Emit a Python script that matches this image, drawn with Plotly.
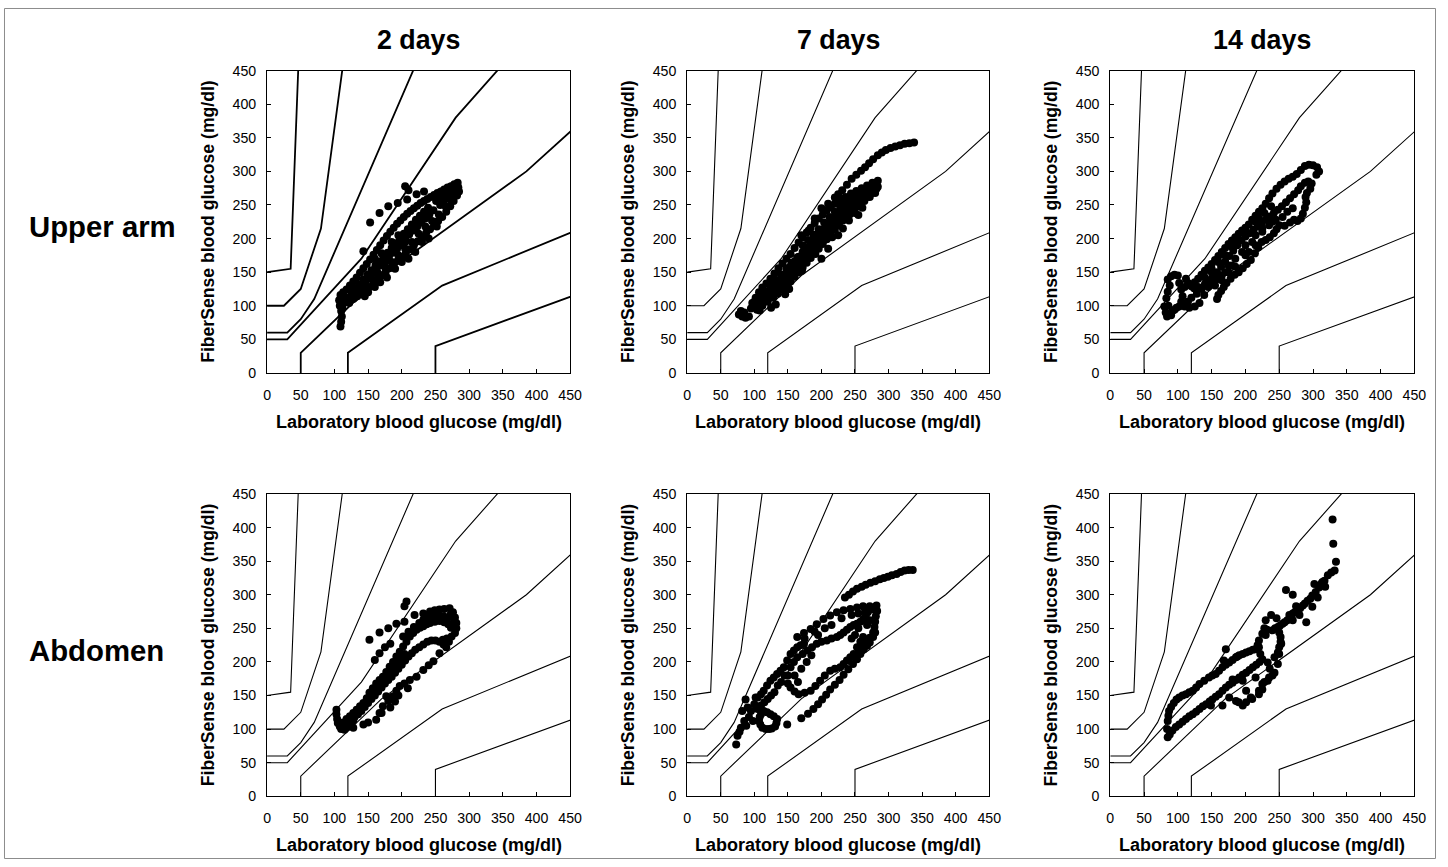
import plotly.graph_objects as go

# ---------------- Data ----------------
col_titles = ["2 days", "7 days", "14 days"]
row_titles = ["Upper arm", "Abdomen"]
x_title = "Laboratory blood glucose (mg/dl)"
y_title = "FiberSense blood glucose (mg/dl)"
tick_vals = [0, 50, 100, 150, 200, 250, 300, 350, 400, 450]

# Parkes (consensus) error grid zone boundaries
zone_A_upper = [(0, 50), (30, 50), (140, 170), (280, 380), (430, 550)]
zone_A_lower = [(50, 0), (50, 30), (170, 145), (385, 300), (550, 450)]
zone_B_upper = [(0, 60), (30, 60), (50, 80), (70, 110), (260, 550)]
zone_B_lower = [(120, 0), (120, 30), (260, 130), (550, 250)]
zone_C_upper = [(0, 100), (25, 100), (50, 125), (80, 215), (125, 550)]
zone_C_lower = [(250, 0), (250, 40), (550, 150)]
zone_D_upper = [(0, 150), (35, 155), (50, 550)]

upper_arm_2d = [
    (109,69),(110,76),(111,84),(110,92),(108,100),(107,108),(109,116),(113,120),(116,112),(119,106),(114,104),(112,96),
    (118,124),(123,130),(128,136),(133,142),(138,149),(143,156),(148,162),(153,169),(158,176),(163,183),(168,190),(173,197),
    (178,204),(183,210),(188,216),(193,222),(198,227),(203,232),(208,237),(213,241),(218,245),(223,249),(228,253),(233,256),
    (238,259),(243,262),(248,265),(253,268),(258,270),(263,273),(268,276),(273,278),(278,281),(283,283),(281,276),
    (125,120),(131,126),(137,132),(143,139),(149,146),(155,153),(161,160),(167,166),(173,172),(179,179),(185,186),(191,193),
    (197,200),(203,207),(209,214),(215,221),(221,228),(227,234),(233,240),(239,246),(251,256),(257,260),(263,264),
    (269,267),(275,270),(280,272),
    (122,104),(128,110),(134,114),(140,118),(146,122),(152,128),(158,134),(164,140),(170,145),(176,150),(182,156),(188,161),
    (194,167),(200,172),(206,178),(212,184),(218,190),(224,196),(230,202),(236,208),(242,214),(248,220),(254,226),(260,232),
    (266,240),(272,248),(277,256),(282,264),(285,270),
    (135,125),(145,130),(155,140),(165,148),(175,158),(185,165),(195,175),(205,185),(215,195),(225,207),(235,218),
    (245,226),(255,236),(265,248),(272,258),(278,266),
    (130,112),(150,120),(160,128),(168,135),(178,142),(190,155),(200,165),(210,170),(220,180),(230,195),(240,200),(252,218),
    (120,112),(127,118),(133,125),(139,130),(146,136),(151,143),(157,149),(163,155),(169,161),(175,167),(181,173),(187,179),
    (193,185),(199,193),(205,200),(211,206),(217,212),(223,218),(229,224),(235,230),(241,236),(247,242),(257,250),(262,256),
    (268,260),(274,264),(279,268),(284,276),
    (143,181),(153,224),(167,238),(180,248),(194,253),(208,258),(205,278),(210,272),(222,266),(233,270),(145,114),(138,120),
    (178,168),(205,195),(172,160),(150,140),(198,190),(160,170),(170,178),(185,195),(195,205),
]

upper_arm_7d = [
    (338,343),(331,342),(324,341),(317,339),(310,337),(303,335),(296,332),(290,328),(284,324),(277,318),(271,312),(265,306),
    (259,301),(252,295),(245,289),(238,280),(231,272),(225,266),(220,261),
    (77,87),(82,84),(87,82),(92,84),(85,90),(80,92),
    (97,104),(102,112),(107,120),(112,127),(118,133),(124,140),(130,148),(136,156),(142,163),(148,170),(154,177),(160,186),
    (166,194),(172,202),(178,209),(184,216),(190,223),(196,230),(202,236),(208,242),(214,247),(220,252),(228,258),(236,262),
    (244,267),(252,271),(260,275),(268,279),(276,283),(284,286),
    (95,96),(100,100),(106,106),(112,112),(118,118),(124,124),(130,131),(136,138),(142,145),(148,152),(154,159),(160,166),
    (166,173),(172,180),(178,187),(184,194),(190,201),(196,208),(202,214),(208,220),(214,226),(220,232),(226,238),(232,244),
    (238,249),(244,254),(250,259),(256,264),(262,268),(268,272),(274,276),(280,279),
    (104,94),(112,100),(120,106),(128,112),(135,118),(142,124),(148,130),(154,136),(160,143),(166,150),(172,157),(178,164),
    (184,171),(190,178),(196,185),(202,192),(208,199),(214,206),(220,213),(226,220),(232,227),(238,233),(244,239),(250,245),
    (256,251),(262,257),(268,262),(274,267),(280,272),(284,277),
    (100,106),(108,114),(116,122),(124,130),(132,138),(140,146),(148,156),(156,164),(164,172),(172,190),(180,198),(188,206),
    (196,214),(204,224),(212,232),(220,240),(228,248),(236,255),(244,260),(252,265),(260,270),(268,275),(276,279),
    (108,100),(116,108),(124,116),(132,122),(140,130),(148,138),(156,146),(164,154),(172,164),(180,172),(188,182),(196,190),
    (204,198),(212,210),(220,218),(228,226),(236,236),(244,244),(252,250),(260,258),(268,266),(276,270),(282,274),
    (103,108),(110,110),(114,118),(120,120),(126,127),(128,122),(134,134),(138,128),(144,142),(146,136),(150,150),(152,144),
    (158,158),(160,152),(162,162),(168,168),(170,160),(174,176),(176,168),(182,184),(184,178),(186,190),(192,196),(194,188),
    (198,204),(200,196),(206,210),(208,204),(210,216),(216,222),(218,214),(222,228),(224,222),(230,234),(232,238),(234,230),
    (240,244),(242,236),(246,250),(248,242),(254,256),(256,248),(258,262),(262,264),(264,256),(270,270),(272,262),(278,276),
    (280,268),
    (117,107),(132,102),(146,117),(152,125),(108,93),(125,97),(160,150),(171,152),(191,177),(200,170),(210,185),(216,202),
    (241,227),(250,238),(225,205),(232,215),(261,246),(255,235),(181,212),(170,205),(200,245),(210,252),(190,230),
]

upper_arm_14d = [
    (85,139),(90,144),(95,146),(100,145),(102,134),(105,124),(107,114),(105,106),(102,99),(95,94),(90,86),(84,84),(82,90),
    (80,99),(83,111),(85,121),(88,130),(86,100),(92,92),(98,97),
    (110,99),(117,97),(125,99),(132,104),(115,106),(120,112),(110,128),(115,134),(120,129),(112,140),(124,126),(128,118),
    (130,140),(135,146),(140,152),(145,157),(150,162),(155,168),(160,174),(165,180),(170,186),(175,192),(180,197),(185,202),
    (190,207),(195,212),(200,216),(205,221),(210,228),(215,234),(220,240),(225,245),(230,252),(235,260),(240,267),(246,274),
    (252,280),(258,285),(264,289),(270,292),(276,296),(282,302),(288,308),(294,310),(300,309),(306,306),(309,300),(305,295),
    (135,125),(140,132),(146,138),(152,144),(158,150),(164,158),(170,166),(176,174),(182,182),(188,190),(194,197),(200,203),
    (206,208),(212,213),(218,218),(224,223),(230,228),(236,233),(242,238),(248,243),(254,248),(260,254),(266,260),(272,266),
    (278,272),(282,278),(288,283),(293,285),(298,282),(296,274),(291,268),(289,262),(290,254),(288,246),(285,237),(282,230),
    (277,226),
    (158,110),(160,116),(164,122),(168,128),(172,134),(178,140),(184,146),(190,150),(196,156),(202,162),(208,168),(214,178),
    (219,187),(224,195),(230,198),(236,202),(242,208),(246,214),(250,220),(258,219),(266,224),(272,228),
    (140,142),(150,155),(160,165),(170,175),(180,188),(190,198),(200,208),(215,225),(155,130),(165,138),(175,150),(185,158),
    (200,175),(215,190),(130,128),(125,135),
    (215,205),(225,215),(235,220),(245,228),(220,230),(228,238),(238,248),
    (139,116),(152,136),(145,128),(150,150),(160,140),(170,150),(175,160),(185,170),(195,180),(200,190),(210,195),(225,210),
    (240,225),(255,232),(262,240),(270,245),(180,160),(165,145),(205,180),
]

abdomen_2d = [
    (207,290),(204,283),
    (152,233),(167,244),(180,250),(192,257),(204,260),(219,270),(232,272),(160,203),(167,213),(175,222),(183,227),
    (242,275),(249,277),(256,278),(263,279),(271,280),(276,274),(279,266),(281,258),(281,250),(279,243),(274,238),(267,235),
    (261,233),(272,270),(278,262),(275,252),
    (202,238),(210,245),(218,252),(226,258),(232,263),(240,266),(248,268),(256,268),(262,268),(268,265),
    (256,213),(247,201),(240,195),(232,188),(222,178),(212,173),(204,168),(197,164),(192,157),(187,149),(180,142),(172,134),
    (167,124),(162,114),(150,110),(143,107),(128,102),
    (190,141),(209,161),(170,124),(177,149),(183,132),(195,150),
    (103,129),(103,122),(104,115),(105,109),(108,104),(110,100),(115,99),(118,102),(123,108),(128,113),(123,119),(128,124),
    (133,129),(138,134),(143,139),(148,146),(152,154),(157,161),(162,168),(167,173),(172,178),(177,185),(182,193),(187,200),
    (192,208),(197,215),(202,223),(207,230),(212,238),(217,243),(222,248),(227,251),(232,253),(237,256),(242,258),(249,260),
    (256,261),(263,259),(269,256),(273,251),
    (113,110),(118,115),(130,118),(135,122),(140,127),(145,133),(150,139),(155,145),(160,150),(165,156),(170,162),(175,168),
    (180,173),(185,178),(190,184),(195,190),(200,196),(205,202),(210,208),(215,213),(220,218),(226,222),(232,226),(238,230),
    (244,232),(250,232),(256,230),(262,226),(266,222),(270,230),
    (120,112),(126,116),(132,124),(138,128),(144,136),(150,144),(156,152),(160,160),(166,166),(172,172),(176,176),(182,183),
    (188,190),(192,198),(198,205),(204,212),
]

abdomen_7d = [
    (336,337),(330,337),(324,336),(318,334),(312,331),(305,329),(299,327),(293,325),(287,323),(280,320),(273,318),(266,315),
    (260,312),(253,309),(247,305),(241,300),(235,296),
    (149,107),(170,116),(180,123),(188,130),(195,137),(201,144),(207,151),(213,159),(220,166),(227,173),(233,181),(240,189),
    (247,197),(253,204),(258,212),(263,219),(268,224),(272,229),(277,237),(280,244),
    (164,237),(174,243),(184,249),(193,256),(203,264),(213,269),(223,274),(233,277),(243,279),(253,281),(262,283),(272,283),
    (282,284),(283,276),(281,268),(280,260),(279,252),(277,244),(272,236),(267,228),(262,222),(257,217),
    (154,192),(159,200),(164,207),(172,212),(179,217),(186,222),(193,227),(200,230),(208,232),(215,235),(223,237),(228,240),
    (233,244),(238,248),(243,252),(248,255),(253,257),(258,260),(262,263),(266,268),(269,274),
    (150,168),(154,162),(160,156),(166,152),(175,154),(184,157),(191,164),(198,172),(205,180),(213,187),(220,190),(228,192),
    (233,197),(238,202),(243,207),(248,212),(253,222),(258,230),(262,237),
    (114,127),(119,125),(124,122),(129,119),(134,115),(133,109),(131,104),(126,101),(122,100),(117,100),(112,102),(109,107),
    (107,112),(108,118),(110,122),
    (95,127),(100,137),(105,147),(110,152),(114,157),(119,165),(124,172),(129,177),(134,182),(139,187),(144,192),(149,202),
    (154,212),(159,217),(164,222),(169,225),(174,227),(140,170),(145,180),(135,165),(130,155),(125,150),(120,145),(115,140),
    (105,130),(110,135),
    (160,180),(170,190),(178,200),(185,210),(165,170),(150,180),(175,235),(195,240),(205,250),(190,245),(215,255),(230,265),
    (245,270),(255,272),(265,275),(275,278),(250,240),(245,235),(255,250),(268,255),(272,262),
    (73,77),(75,90),(80,102),(85,112),(82,127),(87,144),(102,147),(90,132),(78,96),(88,105),(92,118),(98,112),
]

abdomen_14d = [
    (329,412),(330,376),(334,349),
    (332,336),(327,333),(322,329),(317,321),(313,317),(309,311),(304,304),(299,299),(296,294),(292,291),(288,287),(285,284),
    (281,280),(277,277),(273,274),(270,272),(266,266),(262,262),(258,259),(255,257),(251,254),(248,252),(244,250),(240,247),
    (260,307),(270,300),(290,259),(302,316),(314,319),(299,282),(307,296),(318,312),(280,270),(270,262),(265,270),(275,283),
    (225,242),(220,232),(220,222),(222,212),(225,204),(233,199),(236,190),(243,207),(248,214),(250,222),(252,230),(252,237),
    (250,244),(232,248),(230,240),(228,250),
    (253,227),(250,212),(248,197),(243,184),(235,177),(228,170),(225,167),(220,157),(233,172),(240,180),
    (225,159),(220,152),(208,147),(201,140),(196,135),(186,142),(176,147),(166,135),(149,135),(201,157),(215,177),(196,172),
    (181,174),(190,140),(210,145),
    (85,88),(88,92),(92,98),(97,103),(102,107),(107,111),(112,115),(117,119),(122,122),(127,126),(132,130),(137,134),
    (142,137),(147,141),(151,144),(156,148),(161,152),(166,157),(171,162),(176,166),(181,169),(186,173),(191,177),(196,181),
    (201,184),(206,188),(211,192),(216,196),(221,200),
    (84,100),(85,112),(86,120),(87,127),(90,133),(94,139),(98,144),(102,147),(107,150),(112,152),(117,155),(122,157),
    (127,162),(132,167),(139,172),(146,177),(151,180),(156,182),(161,187),(166,192),(171,196),(176,199),(181,203),(186,207),
    (191,210),(196,212),(201,214),(206,216),(211,218),(215,219),(218,225),
    (171,219),(188,208),(168,202),(230,262),(238,270),(246,265),
]

panel_data = [upper_arm_2d, upper_arm_7d, upper_arm_14d, abdomen_2d, abdomen_7d, abdomen_14d]
zones = [zone_A_upper, zone_A_lower, zone_B_upper, zone_B_lower, zone_C_upper, zone_C_lower, zone_D_upper]

# ---------------- Layout geometry ----------------
W, H = 1448, 867
# target positions (as measured on the reference picture)
col_px = [(267, 570), (687, 989), (1110, 1414)]
row_px = [(71, 373), (494, 796)]
# correction for the capture pipeline (measured on previous renders)
AX, BX = 0.9887, 4.0
AY, BY = 0.9807, 8.4
FS = 1 / AX

def px_x(s):
    return ((s - BX) / AX) / W

def px_y(s):
    return 1 - ((s - BY) / AY) / H

FONT = "Liberation Sans, Arial, sans-serif"

fig = go.Figure()
annotations = []

for idx in range(6):
    r, c = divmod(idx, 3)
    n = idx + 1
    xa = "x" if n == 1 else f"x{n}"
    ya = "y" if n == 1 else f"y{n}"
    lw = 1.8 if idx == 0 else 1.1
    for zone in zones:
        fig.add_trace(go.Scatter(
            x=[p[0] for p in zone], y=[p[1] for p in zone], mode="lines",
            line=dict(color="black", width=lw), xaxis=xa, yaxis=ya,
            showlegend=False, hoverinfo="skip"))
    pts = panel_data[idx]
    fig.add_trace(go.Scatter(
        x=[p[0] for p in pts], y=[p[1] for p in pts], mode="markers",
        marker=dict(color="black", size=8, line=dict(width=0)),
        xaxis=xa, yaxis=ya, showlegend=False, cliponaxis=True))

    x0, x1 = col_px[c]
    y0, y1 = row_px[r]
    axis_common = dict(
        range=[0, 450], tickvals=tick_vals, showgrid=False, zeroline=False,
        showline=True, linecolor="black", linewidth=1, mirror=True,
        ticks="inside", ticklen=4, tickcolor="black",
        tickfont=dict(family=FONT, size=14 * FS, color="black"), fixedrange=True)
    fig.layout[("xaxis" if n == 1 else f"xaxis{n}")] = dict(
        domain=[px_x(x0), px_x(x1)], anchor=ya, ticklabelstandoff=9, **axis_common)
    fig.layout[("yaxis" if n == 1 else f"yaxis{n}")] = dict(
        domain=[px_y(y1), px_y(y0)], anchor=xa, ticklabelstandoff=7, **axis_common)

    annotations.append(dict(
        text=f"<b>{x_title}</b>", x=px_x((x0 + x1) / 2), y=px_y(y1 + 49),
        xref="paper", yref="paper", showarrow=False, xanchor="center", yanchor="middle",
        font=dict(family=FONT, size=17.8 * FS, color="black")))
    annotations.append(dict(
        text=f"<b>{y_title}</b>", x=px_x(x0 - 59), y=px_y((y0 + y1) / 2),
        xref="paper", yref="paper", showarrow=False, xanchor="center", yanchor="middle",
        textangle=-90, font=dict(family=FONT, size=17.6, color="black")))

for c, t in enumerate(col_titles):
    x0, x1 = col_px[c]
    annotations.append(dict(
        text=f"<b>{t}</b>", x=px_x((x0 + x1) / 2), y=px_y(40),
        xref="paper", yref="paper", showarrow=False, xanchor="center", yanchor="middle",
        font=dict(family=FONT, size=26.5 * FS, color="black")))

for r, t in enumerate(row_titles):
    y0, y1 = row_px[r]
    annotations.append(dict(
        text=f"<b>{t}</b>", x=px_x(27), y=px_y((y0 + y1) / 2 + 5),
        xref="paper", yref="paper", showarrow=False, xanchor="left", yanchor="middle",
        font=dict(family=FONT, size=29 * FS, color="black")))

fig.update_layout(
    width=W, height=H, margin=dict(l=0, r=0, t=0, b=0),
    paper_bgcolor="white", plot_bgcolor="white",
    annotations=annotations, showlegend=False,
    shapes=[dict(type="rect", xref="paper", yref="paper",
                 x0=0.5 / W, x1=1 - 0.5 / W, y0=0.5 / H, y1=1 - 0.5 / H,
                 line=dict(color="#8c8c8c", width=1))],
)

fig.write_html(
    "out.html",
    config={"displayModeBar": False},
    post_script="document.body.style.margin='0';document.body.style.overflow='hidden';",
)
